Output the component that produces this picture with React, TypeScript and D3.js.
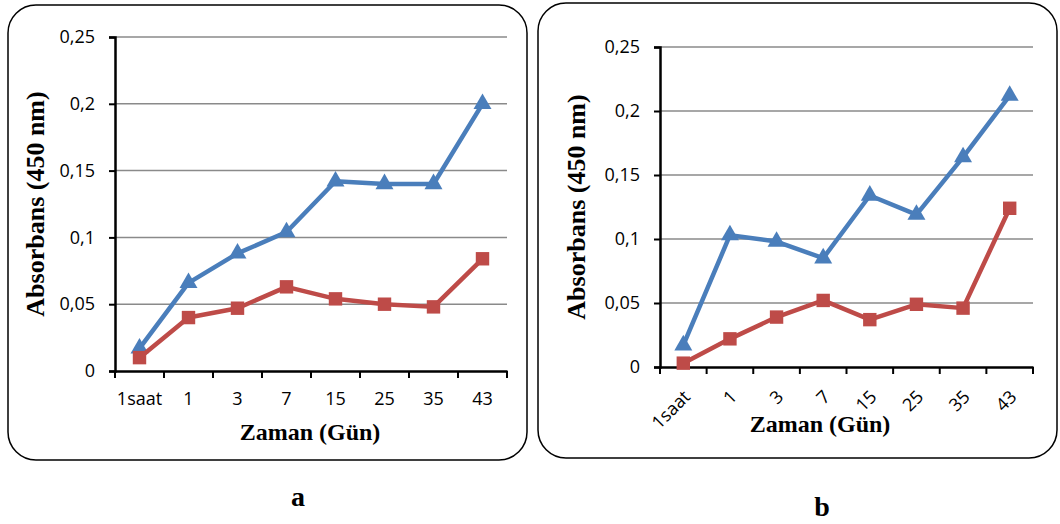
import { useEffect, useRef } from 'react';
import * as d3 from 'd3';

const categories = ['1saat', '1', '3', '7', '15', '25', '35', '43'];
const yTicks = [0, 0.05, 0.1, 0.15, 0.2, 0.25];

// panel a
const aBlue = [0.017, 0.066, 0.088, 0.104, 0.142, 0.140, 0.140, 0.200];
const aRed = [0.010, 0.040, 0.047, 0.063, 0.054, 0.050, 0.048, 0.084];

// panel b
const bBlue = [0.017, 0.103, 0.098, 0.085, 0.134, 0.119, 0.164, 0.212];
const bRed = [0.003, 0.022, 0.039, 0.052, 0.037, 0.049, 0.046, 0.124];

const BLUE = '#4a7ebb';
const RED = '#be4b48';

const panels = [
  {
    letter: 'a', blue: aBlue, red: aRed,
    box: { x: 8, y: 5, w: 519, h: 455 },
    plot: { left: 115, right: 507, top: 37, bottom: 371 },
    rotate: false, xTitle: [310, 440], yTitleX: 44, letterPos: [298, 506],
  },
  {
    letter: 'b', blue: bBlue, red: bRed,
    box: { x: 538, y: 3, w: 519, h: 455 },
    plot: { left: 660, right: 1033, top: 47, bottom: 367 },
    rotate: true, xTitle: [820, 432], yTitleX: 585, letterPos: [822, 516],
  },
];

const App = () => {
  const svgRef = useRef<SVGSVGElement>(null);

  useEffect(() => {
    const svg = d3.select(svgRef.current);
    svg.selectAll('*').remove();

    panels.forEach(p => {
      const g = svg.append('g');

      g.append('rect')
        .attr('x', p.box.x).attr('y', p.box.y)
        .attr('width', p.box.w).attr('height', p.box.h)
        .attr('rx', 28).attr('ry', 28)
        .attr('fill', 'white').attr('stroke', 'black').attr('stroke-width', 1.5);

      const x = d3.scaleBand()
        .domain(categories)
        .range([p.plot.left, p.plot.right]);

      const y = d3.scaleLinear()
        .domain([0, 0.25])
        .range([p.plot.bottom, p.plot.top]);

      // gridlines
      g.selectAll('.grid')
        .data(yTicks.filter(t => t > 0))
        .enter().append('line')
        .attr('x1', p.plot.left).attr('x2', p.plot.right)
        .attr('y1', d => y(d)).attr('y2', d => y(d))
        .attr('stroke', '#8a8a8a').attr('stroke-width', 1.5);

      // y axis
      const yAxis = g.append('g')
        .attr('transform', `translate(${p.plot.left},0)`)
        .call(d3.axisLeft(y).tickValues(yTicks).tickSize(6).tickPadding(14)
          .tickFormat(d => String(d).replace('.', ',')));
      yAxis.select('.domain').attr('stroke-width', 2.5);
      yAxis.selectAll('.tick line').attr('stroke-width', 2);
      yAxis.selectAll('text')
        .attr('font-family', '"Open Sans", sans-serif')
        .attr('font-size', 18).attr('fill', 'black');

      // x axis
      const xAxis = g.append('g')
        .attr('transform', `translate(0,${p.plot.bottom})`)
        .call(d3.axisBottom(x).tickSize(0).tickSizeOuter(0));
      xAxis.select('.domain').attr('stroke-width', 2.5);
      g.selectAll('.xtick')
        .data(d3.range(categories.length + 1))
        .enter().append('line')
        .attr('x1', i => p.plot.left + i * x.bandwidth())
        .attr('x2', i => p.plot.left + i * x.bandwidth())
        .attr('y1', p.plot.bottom).attr('y2', p.plot.bottom + 7)
        .attr('stroke', 'black').attr('stroke-width', 2);

      const xt = xAxis.selectAll('text')
        .attr('font-family', '"Open Sans", sans-serif')
        .attr('font-size', 18).attr('fill', 'black');
      if (p.rotate) {
        xt.attr('text-anchor', 'end')
          .attr('y', 0).attr('dy', 0)
          .attr('transform', 'translate(8,31) rotate(-45)');
      } else {
        xt.attr('y', 21).attr('dy', '0.71em');
      }

      const line = d3.line<number>()
        .x((_, i) => x(categories[i])! + x.bandwidth() / 2)
        .y(d => y(d));

      [
        { values: p.blue, color: BLUE, shape: d3.symbolTriangle, size: 140 },
        { values: p.red, color: RED, shape: d3.symbolSquare, size: 180 },
      ].forEach(s => {
        g.append('path')
          .attr('d', line(s.values))
          .attr('fill', 'none')
          .attr('stroke', s.color)
          .attr('stroke-width', 4.5)
          .attr('stroke-linejoin', 'round');
        g.selectAll(null)
          .data(s.values)
          .enter().append('path')
          .attr('d', d3.symbol().type(s.shape).size(s.size)())
          .attr('transform', (d, i) => `translate(${x(categories[i])! + x.bandwidth() / 2},${y(d)})`)
          .attr('fill', s.color);
      });

      // titles
      g.append('text')
        .attr('x', p.xTitle[0]).attr('y', p.xTitle[1])
        .attr('text-anchor', 'middle')
        .attr('font-family', '"Liberation Serif", serif')
        .attr('font-weight', 'bold').attr('font-size', 24)
        .text('Zaman (Gün)');

      g.append('text')
        .attr('transform', `translate(${p.yTitleX},${(p.plot.top + p.plot.bottom) / 2}) rotate(-90)`)
        .attr('text-anchor', 'middle')
        .attr('font-family', '"Liberation Serif", serif')
        .attr('font-weight', 'bold').attr('font-size', 26)
        .text('Absorbans (450 nm)');

      svg.append('text')
        .attr('x', p.letterPos[0]).attr('y', p.letterPos[1])
        .attr('text-anchor', 'middle')
        .attr('font-family', '"Liberation Serif", serif')
        .attr('font-weight', 'bold').attr('font-size', 28)
        .text(p.letter);
    });
  }, []);

  return (
    <div style={{ position: 'absolute', left: 0, top: 0 }}>
      <svg ref={svgRef} width={1060} height={524} style={{ display: 'block', background: 'white' }} />
    </div>
  );
};

export default App;
